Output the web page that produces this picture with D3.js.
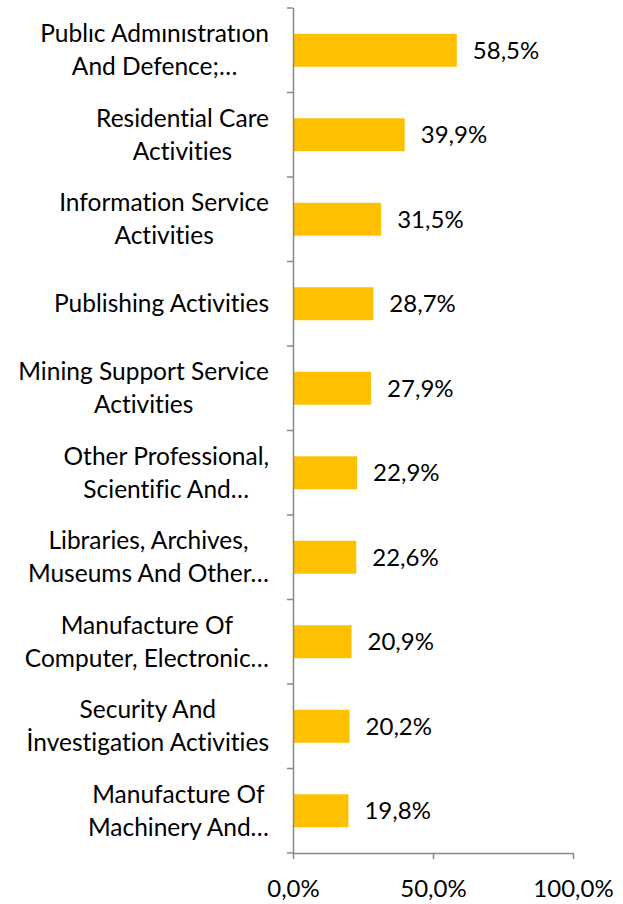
<!DOCTYPE html>
<html>
<head>
<meta charset="utf-8">
<script src="https://cdn.jsdelivr.net/npm/d3@7"></script>
<style>
  body { margin: 0; background: #fff; }
  text { font-family: Lato, "Open Sans", sans-serif; fill: #000;
         font-variant-ligatures: none; font-feature-settings: "liga" 0, "clig" 0; }
</style>
</head>
<body>
<script>
// categories as shown (already wrapped/truncated like the original)
var categories = [
  "Publıc Admınıstratıon\nAnd Defence;…",
  "Residential Care\nActivities",
  "Information Service\nActivities",
  "Publishing Activities",
  "Mining Support Service\nActivities",
  "Other Professional,\nScientific And…",
  "Libraries, Archives,\nMuseums And Other…",
  "Manufacture Of\nComputer, Electronic…",
  "Security And\nİnvestigation Activities",
  "Manufacture Of\nMachinery And…"
];
var values = [58.5, 39.9, 31.5, 28.7, 27.9, 22.9, 22.6, 20.9, 20.2, 19.8];
var xTicks = [0, 50, 100];

var w = 623, h = 904;
var margin = {top: 8, right: 50, bottom: 51, left: 293};
var labelSize = 24.5, numSize = 24;

var fmt = function(v) { return d3.format(".1f")(v).replace(".", ",") + "%"; };

var svg = d3.select("body").append("svg").attr("width", w).attr("height", h);

var x = d3.scaleLinear().domain([0, 100]).range([margin.left, w - margin.right]);
var y = d3.scaleBand().domain(d3.range(categories.length))
  .range([margin.top, h - margin.bottom])
  .paddingInner(0.61).paddingOuter(0.305);

// band boundaries for the category ticks
var step = y.step();
var yb = d3.range(categories.length + 1).map(function(i) { return margin.top + i * step; });

// bars
svg.append("g").selectAll("rect")
  .data(values)
  .enter().append("rect")
  .attr("x", x(0))
  .attr("y", function(d, i) { return y(i); })
  .attr("width", function(d) { return x(d) - x(0); })
  .attr("height", y.bandwidth())
  .attr("fill", "#FFC000");

// value labels
svg.append("g").selectAll("text")
  .data(values)
  .enter().append("text")
  .attr("x", function(d) { return x(d) + 16; })
  .attr("y", function(d, i) { return y(i) + y.bandwidth() / 2; })
  .attr("dy", "0.35em")
  .style("font-size", numSize + "px")
  .text(fmt);

// y axis line + ticks
var axisColor = "#898989";
svg.append("line")
  .attr("x1", x(0) + 0.5).attr("x2", x(0) + 0.5)
  .attr("y1", margin.top).attr("y2", h - margin.bottom)
  .attr("stroke", axisColor).attr("stroke-width", 1.5);
svg.append("g").selectAll("line")
  .data(yb)
  .enter().append("line")
  .attr("x1", x(0) - 6).attr("x2", x(0))
  .attr("y1", function(d) { return d; }).attr("y2", function(d) { return d; })
  .attr("stroke", axisColor).attr("stroke-width", 1.5);

// category labels: lines centred on each other, block right-aligned to the axis
var lineH = 33;
var labelRight = x(0) - 24;
var labels = svg.append("g").selectAll("text")
  .data(categories)
  .enter().append("text")
  .attr("text-anchor", "middle")
  .style("font-size", labelSize + "px");
labels.each(function(d, i) {
  var lines = d.split("\n");
  var t = d3.select(this);
  var cy = y(i) + y.bandwidth() / 2;
  var spans = lines.map(function(l, k) {
    return t.append("tspan")
      .attr("y", cy + (k - (lines.length - 1) / 2) * lineH)
      .attr("dy", "0.35em")
      .text(l);
  });
  var maxW = d3.max(spans, function(s) { return s.node().getComputedTextLength(); });
  spans.forEach(function(s) { s.attr("x", labelRight - maxW / 2); });
});

// x axis
var xAxis = svg.append("g")
  .attr("transform", "translate(0," + (h - margin.bottom) + ")")
  .call(d3.axisBottom(x).tickValues(xTicks).tickSize(6).tickSizeOuter(0).tickFormat(fmt));
xAxis.select(".domain").attr("stroke", axisColor).attr("stroke-width", 1.5);
xAxis.selectAll(".tick line").attr("stroke", axisColor).attr("stroke-width", 1.5);
xAxis.selectAll(".tick text")
  .attr("y", 27)
  .style("font-size", numSize + "px")
  .style("font-family", "Lato, sans-serif")
  .attr("fill", "#000");
</script>
</body>
</html>
